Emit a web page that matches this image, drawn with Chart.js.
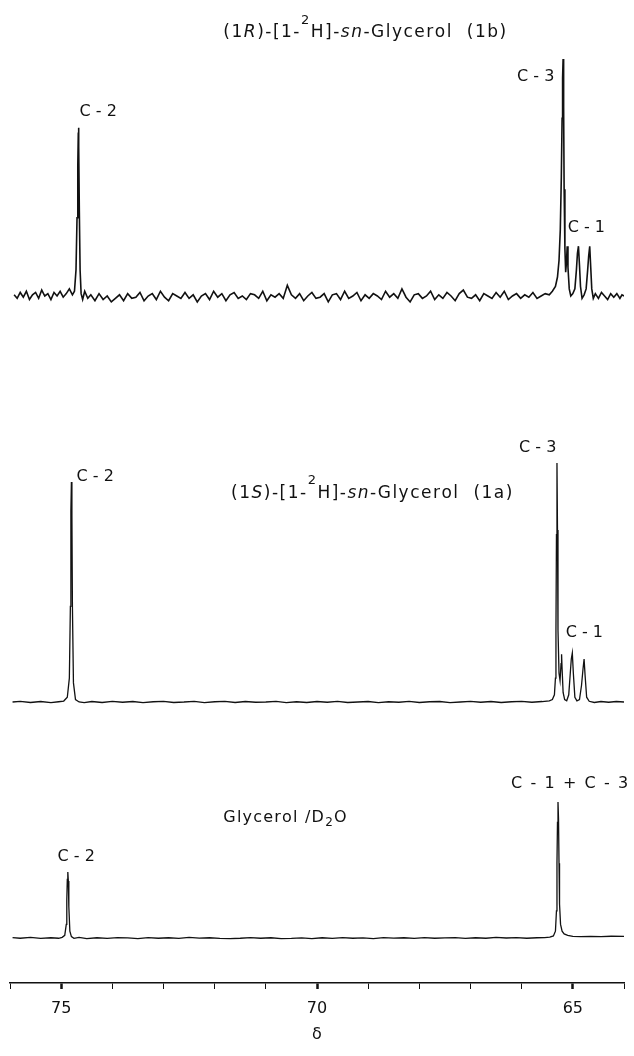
<!DOCTYPE html>
<html>
<head>
<meta charset="utf-8">
<script src="https://cdn.jsdelivr.net/npm/chart.js@4"></script>
<style>
  html, body { margin: 0; padding: 0; background: #fff; }
  #nmr { display: block; }
</style>
</head>
<body>
<canvas id="nmr" width="634" height="1056"></canvas>
<script>
// chemical shift (ppm) and intensity
// top: (1R)-[1-2H]-sn-glycerol, tallest line (C-3) = 100
const topShift = [
  75.92, 75.86, 75.80, 75.74, 75.68, 75.62, 75.56, 75.50, 75.44, 75.38,
  75.32, 75.26, 75.20, 75.14, 75.08, 75.02, 74.96, 74.90, 74.84, 74.78,
  74.74, 74.71, 74.69, 74.675, 74.665, 74.66, 74.655, 74.645, 74.63, 74.61,
  74.58, 74.54, 74.48, 74.42, 74.34, 74.26, 74.18, 74.10, 74.02, 73.94,
  73.86, 73.78, 73.70, 73.62, 73.54, 73.46, 73.38, 73.30, 73.22, 73.14,
  73.06, 72.98, 72.90, 72.82, 72.74, 72.66, 72.58, 72.50, 72.42, 72.34,
  72.26, 72.18, 72.10, 72.02, 71.94, 71.86, 71.78, 71.70, 71.62, 71.54,
  71.46, 71.38, 71.30, 71.22, 71.14, 71.06, 70.98, 70.90, 70.82, 70.74,
  70.66, 70.58, 70.50, 70.42, 70.34, 70.26, 70.18, 70.10, 70.02, 69.94,
  69.86, 69.78, 69.70, 69.62, 69.54, 69.46, 69.38, 69.30, 69.22, 69.14,
  69.06, 68.98, 68.90, 68.82, 68.74, 68.66, 68.58, 68.50, 68.42, 68.34,
  68.26, 68.18, 68.10, 68.02, 67.94, 67.86, 67.78, 67.70, 67.62, 67.54,
  67.46, 67.38, 67.30, 67.22, 67.14, 67.06, 66.98, 66.90, 66.82, 66.74,
  66.66, 66.58, 66.50, 66.42, 66.34, 66.26, 66.18, 66.10, 66.02, 65.94,
  65.86, 65.78, 65.70, 65.62, 65.54, 65.46, 65.40, 65.34, 65.30, 65.27,
  65.245, 65.225, 65.21, 65.20, 65.19, 65.18, 65.17, 65.155, 65.14, 65.125,
  65.11, 65.095, 65.07, 65.04, 65.00, 64.96, 64.93, 64.91, 64.89, 64.87,
  64.85, 64.82, 64.78, 64.74, 64.71, 64.69, 64.67, 64.65, 64.63, 64.60,
  64.56, 64.50, 64.44, 64.38, 64.32, 64.26, 64.20, 64.14, 64.08, 64.04,
  64.00
];
const topSignal = [
  0.5, -1, 1.5, -0.5, 2, -1.5, 0.5, 1.5, -1, 2.5,
  0, 1, -1.5, 1.5, 0, 2, -0.5, 1, 3, 0.5,
  2, 11, 33, 55, 69, 71, 63, 36, 11, 1,
  -1.5, 2, -1, 0.5, -2, 1, -1.5, 0, -2.5, -1,
  0.5, -2, 1, -1, -0.5, 1.5, -2, 0, 1, -1.5,
  2, -0.5, -2, 1, 0, -1, 1.5, -1, 0.5, -2.5,
  0, 1, -1.5, 2, -0.5, 1, -2, 0.5, 1.5, -1,
  0, -1.5, 1, 0.5, -1, 2, -2, 0.5, -0.5, 1,
  -1, 4.5, 0.5, -1, 1, -2, 0, 1.5, -1, -0.5,
  1, -2.5, 0.5, 1, -1.5, 2, -1, 0, 1.5, -2,
  0.5, -1, 1, 0, -1.5, 2, -0.5, 1, -1, 3,
  -0.5, -2.5, 0.5, 1, -1, 0, 2, -1.5, 0.5, -1,
  1.5, 0, -2, 1, 2.5, -0.5, -1, 0.5, -2, 1,
  0, -1, 1.5, -0.5, 2, -1.5, 0, 1, -1, 0.5,
  -0.5, 1.5, -1, 0, 1, 0.5, 2, 4, 8, 15,
  28, 50, 75, 92, 100, 80, 45, 20, 10, 14,
  21, 12, 3, 0, 1, 3, 11, 18, 21, 13,
  4, -1, 0.5, 3, 11, 17, 21, 12, 3, -1,
  1, -1, 1.5, 0, -1.5, 1, -0.5, 1, -1, 0.5,
  0
];

// middle: (1S)-[1-2H]-sn-glycerol, C-3 = 100
const midShift = [
  75.95, 75.80, 75.60, 75.40, 75.20, 75.05, 74.95, 74.88, 74.84, 74.82,
  74.81, 74.80, 74.79, 74.78, 74.76, 74.72, 74.65, 74.55, 74.40, 74.20,
  74.00, 73.80, 73.60, 73.40, 73.20, 73.00, 72.80, 72.60, 72.40, 72.20,
  72.00, 71.80, 71.60, 71.40, 71.20, 71.00, 70.80, 70.60, 70.40, 70.20,
  70.00, 69.80, 69.60, 69.40, 69.20, 69.00, 68.80, 68.60, 68.40, 68.20,
  68.00, 67.80, 67.60, 67.40, 67.20, 67.00, 66.80, 66.60, 66.40, 66.20,
  66.00, 65.80, 65.60, 65.46, 65.40, 65.36, 65.34, 65.33, 65.32, 65.31,
  65.30, 65.29, 65.27, 65.25, 65.23, 65.22, 65.21, 65.19, 65.16, 65.12,
  65.08, 65.05, 65.03, 65.01, 64.99, 64.96, 64.92, 64.87, 64.83, 64.80,
  64.78, 64.76, 64.73, 64.68, 64.58, 64.45, 64.30, 64.15, 64.00
];
const midSignal = [
  0, 0.3, -0.2, 0.2, -0.3, 0.1, 0.4, 2, 10, 40,
  80, 92, 78, 40, 8, 1, 0, -0.3, 0.2, -0.2,
  0.3, -0.1, 0.2, -0.3, 0.1, 0.3, -0.2, 0, 0.3, -0.3,
  0.1, 0.3, -0.2, 0.2, -0.1, 0, 0.3, -0.3, 0.1, -0.2,
  0.2, -0.1, 0.3, -0.2, 0, 0.2, -0.3, 0.1, -0.1, 0.3,
  -0.2, 0.1, 0.2, -0.3, 0, 0.3, -0.1, 0.2, -0.2, 0.1,
  0.3, -0.1, 0.2, 0.5, 1, 3, 10, 30, 70, 100,
  72, 30, 12, 9, 16, 20, 14, 4, 1, 0.5,
  3, 12, 18, 20.5, 12, 2, 0.5, 1, 7, 14,
  18, 11, 2, 0.3, -0.2, 0.2, -0.1, 0.2, 0
];

// bottom: glycerol in D2O, C-1+C-3 = 100
const botShift = [
  75.95, 75.80, 75.60, 75.40, 75.20, 75.05, 74.98, 74.93, 74.90, 74.89,
  74.88, 74.87, 74.86, 74.85, 74.83, 74.80, 74.75, 74.65, 74.50, 74.30,
  74.10, 73.90, 73.70, 73.50, 73.30, 73.10, 72.90, 72.70, 72.50, 72.30,
  72.10, 71.90, 71.70, 71.50, 71.30, 71.10, 70.90, 70.70, 70.50, 70.30,
  70.10, 69.90, 69.70, 69.50, 69.30, 69.10, 68.90, 68.70, 68.50, 68.30,
  68.10, 67.90, 67.70, 67.50, 67.30, 67.10, 66.90, 66.70, 66.50, 66.30,
  66.10, 65.90, 65.70, 65.55, 65.45, 65.38, 65.34, 65.32, 65.31, 65.30,
  65.29, 65.28, 65.27, 65.26, 65.24, 65.21, 65.17, 65.10, 65.00, 64.85,
  64.65, 64.45, 64.25, 64.00
];
const botSignal = [
  0.3, -0.2, 0.4, -0.3, 0.2, -0.2, 0.5, 2, 10, 28,
  43, 48.5, 42, 23, 5, 1, -0.3, 0.4, -0.4, 0.2,
  -0.3, 0.3, 0.1, -0.4, 0.3, -0.2, 0.2, -0.3, 0.4, -0.1,
  0.2, -0.3, -0.5, -0.2, 0.3, -0.2, 0.2, -0.5, -0.3, 0.1,
  -0.4, 0.2, -0.3, 0.3, -0.2, 0.1, -0.4, 0.3, -0.1, 0.2,
  -0.3, 0.3, -0.2, 0.1, 0.3, -0.3, 0.2, -0.2, 0.4, 0,
  0.3, -0.2, 0.2, 0.3, 0.6, 1.5, 5, 20, 55, 85,
  100, 88, 55, 25, 10, 5, 3, 2, 1.2, 1,
  1.2, 1, 1.3, 1.2
];

const majorTicks = [75, 70, 65];

// text on the figure: [text, style] runs, placed in shift / intensity units
const labelText = [
  [['(1', ''], ['R', 'i'], [')-[1-', ''], ['2', 'sup'], ['H]-', ''], ['sn', 'i'], ['-Glycerol  (1b)', '']],
  [['C - 2', '']],
  [['C - 3', '']],
  [['C - 1', '']],
  [['(1', ''], ['S', 'i'], [')-[1-', ''], ['2', 'sup'], ['H]-', ''], ['sn', 'i'], ['-Glycerol  (1a)', '']],
  [['C - 2', '']],
  [['C - 3', '']],
  [['C - 1', '']],
  [['Glycerol /D', ''], ['2', 'sub'], ['O', '']],
  [['C - 2', '']],
  [['C - 1 + C - 3', '']]
];
const labelShift = [71.83, 74.64, 66.09, 65.10, 71.68, 74.70, 66.05, 65.14, 71.83, 75.07, 66.21];
const labelHeight = [111, 77.6, 92.4, 28.7, 87.4, 94.1, 106.3, 28.9, 88, 59.6, 113];
const labelAxis = ['yTop', 'yTop', 'yTop', 'yTop', 'yMid', 'yMid', 'yMid', 'yMid', 'yBot', 'yBot', 'yBot'];
const labelSpacing = [1.5, 0, 0, 0, 1.5, 0, 0, 0, 1.2, 0, 1.6];
const labelSize = [17, 16, 16, 16, 17, 16, 16, 16, 16, 16, 16];

// layout: baseline pixel and pixels per intensity unit of each trace
const AXIS_Y = 983;
const baselinePx = { yTop: 296, yMid: 702, yBot: 938 };
const unitPx = { yTop: 2.37, yMid: 2.39, yBot: 1.36 };

const FONT = '"DejaVu Sans", sans-serif';

function yAxis(id) {
  return {
    display: false,
    min: -(AXIS_Y - baselinePx[id]) / unitPx[id],
    max: baselinePx[id] / unitPx[id]
  };
}

function toPoints(xs, ys) {
  return xs.map((x, i) => ({ x: x, y: ys[i] }));
}

// draws runs glyph by glyph so letter spacing works everywhere
function drawRich(ctx, runs, x, y, spacing, size) {
  let cx = x;
  runs.forEach(([t, s]) => {
    const small = s === 'sup' || s === 'sub';
    ctx.font = (s === 'i' ? 'italic ' : '') + (small ? size - 4 : size) + 'px ' + FONT;
    const dy = s === 'sup' ? -12 : s === 'sub' ? 5 : 0;
    for (const ch of t) {
      ctx.fillText(ch, cx, y + dy);
      cx += ctx.measureText(ch).width + spacing;
    }
  });
}

const annotate = {
  id: 'annotate',
  afterDatasetsDraw(chart) {
    const ctx = chart.ctx;
    ctx.save();
    ctx.fillStyle = '#111';
    ctx.textBaseline = 'middle';
    ctx.textAlign = 'left';
    labelText.forEach((runs, i) => {
      const px = chart.scales.x.getPixelForValue(labelShift[i]);
      const py = chart.scales[labelAxis[i]].getPixelForValue(labelHeight[i]);
      drawRich(ctx, runs, px, py, labelSpacing[i], labelSize[i]);
    });
    ctx.restore();
  }
};

const trace = (xs, ys, axis, width) => ({
  data: toPoints(xs, ys),
  yAxisID: axis,
  borderColor: '#111',
  borderWidth: width,
  pointRadius: 0,
  tension: 0,
  fill: false
});

new Chart(document.getElementById('nmr'), {
  type: 'line',
  data: {
    datasets: [
      trace(topShift, topSignal, 'yTop', 1.6),
      trace(midShift, midSignal, 'yMid', 1.3),
      trace(botShift, botSignal, 'yBot', 1.3)
    ]
  },
  options: {
    responsive: false,
    animation: false,
    devicePixelRatio: 1,
    layout: { padding: { left: 10, right: 5, top: 0, bottom: 0 } },
    plugins: { legend: { display: false }, tooltip: { enabled: false } },
    scales: {
      x: {
        type: 'linear',
        reverse: true,
        min: 64,
        max: 76,
        afterFit(scale) { scale.height = 1056 - AXIS_Y; },
        border: { display: true, color: '#111', width: 1.5 },
        grid: {
          drawOnChartArea: false,
          drawTicks: true,
          tickLength: 6,
          color: '#111',
          tickWidth: ctx => majorTicks.includes(ctx.tick && ctx.tick.value) ? 2.5 : 1
        },
        ticks: {
          stepSize: 1,
          autoSkip: false,
          maxRotation: 0,
          padding: 10,
          color: '#111',
          font: { family: FONT, size: 16 },
          callback: v => majorTicks.includes(v) ? String(v) : ''
        },
        title: {
          display: true,
          text: 'δ',
          color: '#111',
          font: { family: FONT, size: 16, lineHeight: 1 },
          padding: { top: 0, bottom: 13 }
        }
      },
      yTop: yAxis('yTop'),
      yMid: yAxis('yMid'),
      yBot: yAxis('yBot')
    }
  },
  plugins: [annotate]
});
</script>
</body>
</html>
